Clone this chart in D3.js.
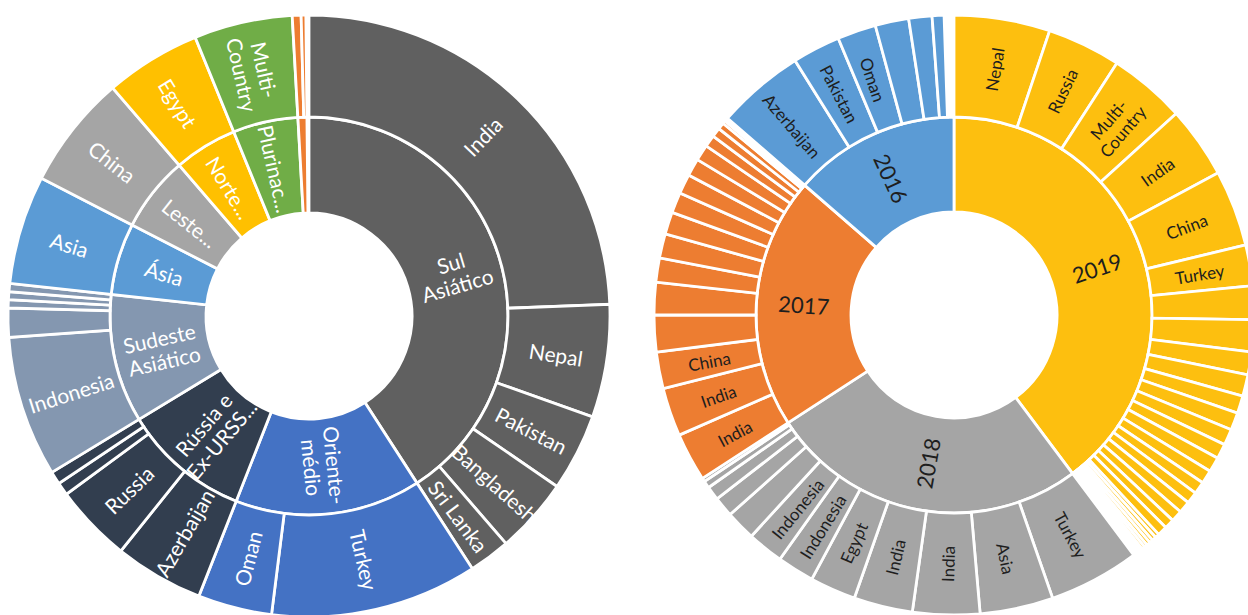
<!DOCTYPE html>
<html><head><meta charset="utf-8">
<script src="https://cdn.jsdelivr.net/npm/d3@7"></script>
<style>
html,body{margin:0;padding:0;background:#fff;}
svg{display:block;}
text{font-family:Lato,"Open Sans",sans-serif;}
</style>
</head><body>
<svg id="chart" width="1248" height="615"></svg>
<script>
// ---------- LEFT SUNBURST: regions (inner) and countries (outer) ----------
const leftRegions = ["Sul\nAsiático", "Oriente-\nmédio", "Rússia e\nEx-URSS...", "Sudeste\nAsiático", "Ásia", "Leste...", "Norte...", "Plurinac...", "", null];
const leftRegionColors = ["#606060", "#4472C4", "#323E4F", "#8497B0", "#5B9BD5", "#A5A5A5", "#FFC000", "#70AD47", "#ED7D31", null];
const leftCountries = [
  ["India", "Nepal", "Pakistan", "Bangladesh", "Sri Lanka"],
  ["Turkey", "Oman"],
  ["Azerbaijan", "Russia", "", ""],
  ["Indonesia", "", "", "", ""],
  ["Asia"],
  ["China"],
  ["Egypt"],
  ["Multi-\nCountry"],
  ["", ""],
  [null]
];
const leftValues = [
  [87.7, 21.8, 14.9, 14.6, 8.0],
  [40.0, 14.3],
  [17.2, 15.0, 2.5, 2.5],
  [27.2, 5.6, 1.6, 1.5, 1.6],
  [21.0],
  [22.0],
  [18.5],
  [19.0],
  [1.7, 0.9],
  [0.6]
];

// ---------- RIGHT SUNBURST: years (inner) and countries (outer) ----------
const rightYears = ["2019", "2018", "2017", "2016"];
const rightYearColors = ["#FDBF0F", "#A5A5A5", "#ED7D31", "#5B9BD5"];
const rightCountries = [
  ["Nepal", "Russia", "Multi-\nCountry", "India", "China", "Turkey",
   "", "", "", "", "", "", "", "", "", "", "", "", "", "", "", "",
   "", "", "", "", "", "", "", "", "", ""],
  ["Turkey", "Asia", "India", "India", "Egypt", "Indonesia", "Indonesia", "", "", "", "", ""],
  ["India", "India", "China", "", "", "", "", "", "", "", "", "", "", "", "", "", "", ""],
  ["Azerbaijan", "Pakistan", "Oman", "", "", "", null]
];
const rightValues = [
  [18.6, 14.3, 14.9, 13.9, 14.8, 7.9,
   6.5, 6.2, 4.4, 4.2, 3.4, 3.4, 3.1, 2.9, 2.9, 2.6, 2.4, 2.3, 2.3, 2.2, 1.9, 1.9,
   0.8, 0.8, 0.7, 0.7, 0.6, 0.6, 0.5, 0.5, 0.5, 0.5],
  [17.6, 14.2, 13.0, 11.4, 8.9, 7.2, 7.0, 5.8, 3.9, 2.7, 1.4, 0.7],
  [9.4, 9.4, 7.1, 7.1, 6.3, 4.7, 4.7, 4.3, 4.0, 3.8, 3.4, 3.1, 2.3, 1.8, 1.3, 0.6, 0.4, 0.3],
  [17.0, 9.3, 7.5, 6.5, 4.5, 2.3, 1.9]
];

const svg = d3.select("#chart");

function buildTree(groups, colors, kids, vals) {
  return {
    name: "root",
    children: groups.map((g, i) => ({
      name: g, color: colors[i],
      children: kids[i].map((k, j) => ({ name: k, value: vals[i][j] }))
    }))
  };
}

function drawSunburst(opt) {
  const root = d3.hierarchy(opt.tree).sum(d => d.value || 0);
  d3.partition().size([2 * Math.PI, 3])(root);
  const rScale = d3.scaleLinear().domain([1, 2, 3]).range([opt.r0, opt.r1, opt.r2]);
  const arc = d3.arc()
    .startAngle(d => d.x0).endAngle(d => d.x1)
    .innerRadius(d => rScale(d.y0)).outerRadius(d => rScale(d.y1));

  const g = svg.append("g").attr("transform", `translate(${opt.cx},${opt.cy})`);
  const nodes = root.descendants().filter(d => d.depth > 0);
  const colorOf = d => {
    const top = d.depth === 1 ? d : d.parent;
    if (d.data.name === null || top.data.color === null) return "none";
    return top.data.color;
  };
  g.selectAll("path").data(nodes).join("path")
    .attr("d", arc)
    .attr("fill", colorOf)
    .attr("stroke", d => colorOf(d) === "none" ? "none" : "#fff")
    .attr("stroke-width", 2.8)
    .attr("stroke-linejoin", "miter");

  const labeled = nodes.filter(d => d.data.name);
  const t = g.selectAll("text").data(labeled).join("text")
    .attr("text-anchor", "middle")
    .attr("dominant-baseline", "central")
    .attr("fill", opt.textColor)
    .attr("font-size", d => d.depth === 1 ? opt.fsInner : opt.fsOuter)
    .attr("transform", d => {
      const a = (d.x0 + d.x1) / 2;
      const r = (rScale(d.y0) + rScale(d.y1)) / 2;
      const deg = a * 180 / Math.PI;
      const rot = deg < 180 ? deg - 90 : deg - 270;
      return `translate(${r * Math.sin(a)},${-r * Math.cos(a)}) rotate(${rot})`;
    });
  t.each(function (d) {
    const lines = d.data.name.split("\n");
    const sel = d3.select(this);
    lines.forEach((ln, i) => {
      sel.append("tspan").attr("x", 0)
        .attr("dy", i === 0 ? `${-(lines.length - 1) * 0.55}em` : "1.1em")
        .text(ln);
    });
  });
}

drawSunburst({
  tree: buildTree(leftRegions, leftRegionColors, leftCountries, leftValues),
  cx: 309, cy: 316, r0: 103, r1: 199, r2: 301,
  textColor: "#ffffff", fsInner: 21, fsOuter: 21
});

drawSunburst({
  tree: buildTree(rightYears, rightYearColors, rightCountries, rightValues),
  cx: 954, cy: 315, r0: 103, r1: 198, r2: 300,
  textColor: "#1e1e1e", fsInner: 22, fsOuter: 17
});
</script>
</body></html>
